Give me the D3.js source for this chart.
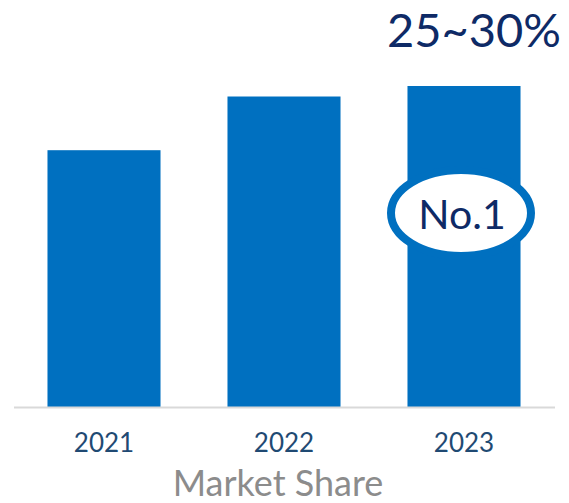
<!DOCTYPE html>
<html>
<head>
<meta charset="utf-8">
<script src="https://cdn.jsdelivr.net/npm/d3@7"></script>
<style>
  html, body { margin: 0; padding: 0; background: #fff; }
  svg { display: block; }
</style>
</head>
<body>
<svg id="chart" width="569" height="503"></svg>
<script>
// Market share by year (%), with the 2023 range shown as a callout
const years = ["2021", "2022", "2023"];
const shares = [22.0, 26.6, 27.5];
const topLabel = "25~30%";
const badgeLabel = "No.1";
const axisTitle = "Market Share";

const svg = d3.select("#chart");
const font = "Lato, 'Open Sans', sans-serif";

const x = d3.scaleBand()
  .domain(years)
  .range([14, 554])
  .paddingInner(0.372)
  .paddingOuter(0.186);

const y = d3.scaleLinear()
  .domain([0, 27.5])
  .range([407, 86]);

// bars
svg.selectAll("rect.bar")
  .data(years.map((yr, i) => ({ yr, v: shares[i] })))
  .join("rect")
  .attr("class", "bar")
  .attr("x", d => x(d.yr))
  .attr("y", d => y(d.v))
  .attr("width", x.bandwidth())
  .attr("height", d => y(0) - y(d.v))
  .attr("fill", "#0070c0");

// baseline and year labels
const xAxis = d3.axisBottom(x).tickSize(0).tickPadding(27);
const axisG = svg.append("g")
  .attr("transform", `translate(0,${y(0)})`)
  .call(xAxis);
axisG.select(".domain")
  .attr("d", "M14,0.5H555")
  .attr("stroke", "#d9d9d9")
  .attr("stroke-width", 2);
axisG.selectAll(".tick text")
  .attr("font-family", font)
  .attr("font-size", 26)
  .attr("fill", "#1f4a73");

// axis title
svg.append("text")
  .attr("x", 278)
  .attr("y", 496)
  .attr("text-anchor", "middle")
  .attr("font-family", font)
  .attr("font-size", 36)
  .attr("fill", "#8c8c8c")
  .text(axisTitle);

// value range above the last bar
const last = years[years.length - 1];
const cx = x(last) + x.bandwidth() / 2;
svg.append("text")
  .attr("x", cx + 10)
  .attr("y", y(shares[2]) - 39)
  .attr("text-anchor", "middle")
  .attr("font-family", font)
  .attr("font-size", 47)
  .attr("fill", "#0e2a66")
  .text(topLabel);

// rank badge
const badgeY = 213;
svg.append("ellipse")
  .attr("cx", cx - 3)
  .attr("cy", badgeY)
  .attr("rx", 70)
  .attr("ry", 43)
  .attr("fill", "#fff")
  .attr("stroke", "#0070c0")
  .attr("stroke-width", 8);
svg.append("text")
  .attr("x", cx - 2)
  .attr("y", badgeY + 16)
  .attr("text-anchor", "middle")
  .attr("font-family", font)
  .attr("font-size", 41)
  .attr("fill", "#0e2a66")
  .text(badgeLabel);
</script>
</body>
</html>
